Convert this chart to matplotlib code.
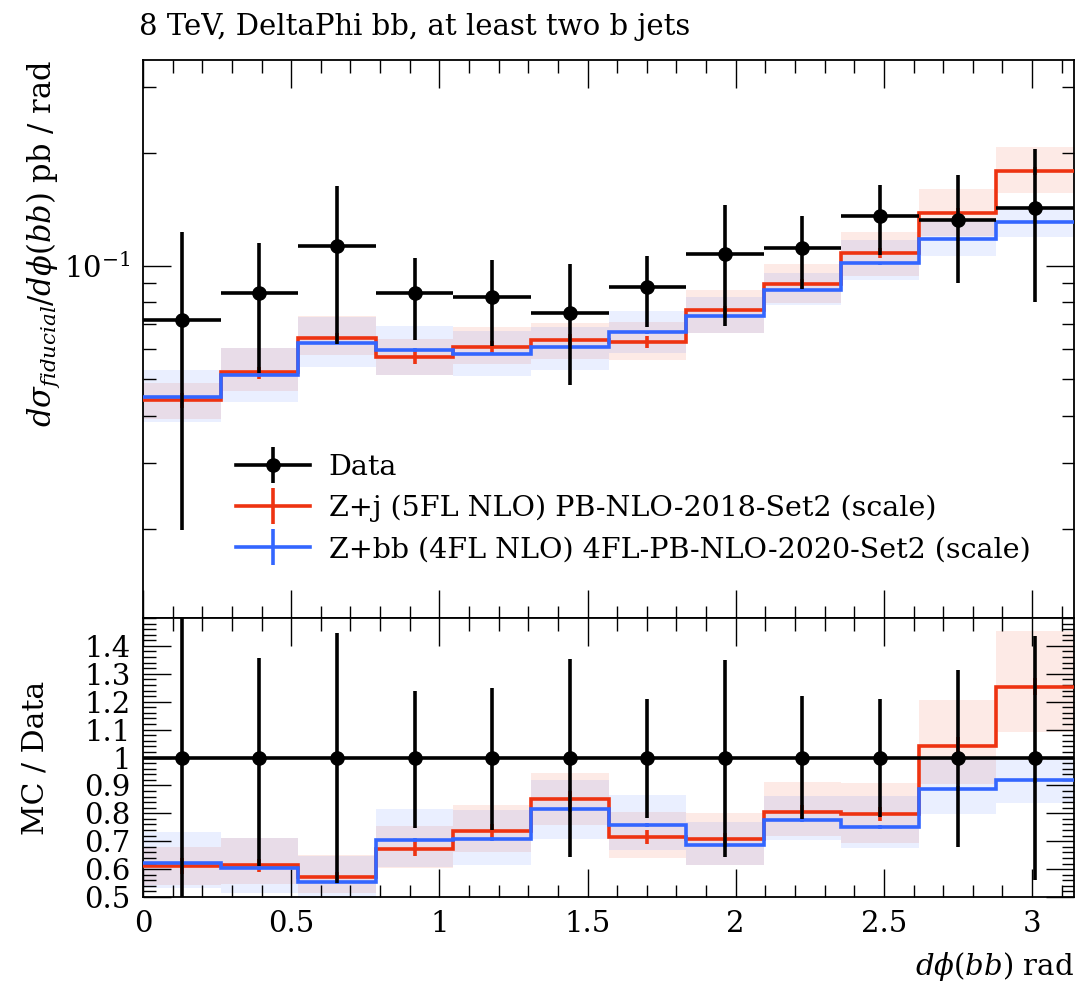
import numpy as np
import matplotlib
matplotlib.use('Agg')
import matplotlib.pyplot as plt
from matplotlib.ticker import MultipleLocator, NullFormatter, LogLocator, FormatStrFormatter
from matplotlib.lines import Line2D

# binning: 12 bins from 0 to pi
edges = np.linspace(0.0, np.pi, 13)

# measured data (pb/rad) and error bar ends
data = [0.0720, 0.0849, 0.1129, 0.0849, 0.0828, 0.0748,
        0.0878, 0.1076, 0.1114, 0.1356, 0.1327, 0.1429]
data_hi = [0.1229, 0.1151, 0.1633, 0.1050, 0.1035, 0.1013,
           0.1063, 0.1453, 0.1360, 0.1640, 0.1744, 0.2050]
data_lo = [0.0199, 0.0518, 0.0622, 0.0635, 0.0612, 0.0482,
           0.0688, 0.0693, 0.0867, 0.1068, 0.0902, 0.0804]

# Z+j (5FL NLO) PB-NLO-2018-Set2
zj = [0.0440, 0.0521, 0.0645, 0.0571, 0.0609, 0.0636,
      0.0629, 0.0762, 0.0898, 0.1081, 0.1381, 0.1792]
zj_up = [0.11, 0.16, 0.14, 0.12, 0.13, 0.11, 0.125, 0.13, 0.13, 0.14, 0.16, 0.16]
zj_dn = [0.11, 0.11, 0.10, 0.10, 0.10, 0.11, 0.105, 0.13, 0.11, 0.13, 0.13, 0.13]
zj_stat = [0.045, 0.037, 0.030, 0.040, 0.036, 0.035, 0.035, 0.030, 0.030, 0.030, 0.030, 0.025]

# Z+bb (4FL NLO) 4FL-PB-NLO-2020-Set2
zbb = [0.0447, 0.0512, 0.0625, 0.0598, 0.0585, 0.0609,
       0.0666, 0.0737, 0.0864, 0.1017, 0.1178, 0.1312]
zbb_up = [0.18, 0.18, 0.17, 0.16, 0.15, 0.13, 0.14, 0.12, 0.11, 0.15, 0.13, 0.08]
zbb_dn = [0.14, 0.15, 0.14, 0.14, 0.13, 0.13, 0.12, 0.10, 0.09, 0.10, 0.10, 0.09]
zbb_stat = [0.01] * 12

RED = '#EE3311'
BLUE = '#3366FF'

plt.rcParams['font.family'] = ['DejaVu Serif']
plt.rcParams['mathtext.fontset'] = 'dejavuserif'

FS = 21

data = np.array(data); data_hi = np.array(data_hi); data_lo = np.array(data_lo)
centers = 0.5 * (edges[1:] + edges[:-1])
halfw = 0.5 * np.diff(edges)

fig = plt.figure(figsize=(10.76, 9.86), dpi=100)
ax = fig.add_axes([143/1076, 1-618/986, 931/1076, 558/986])
rax = fig.add_axes([143/1076, 1-897/986, 931/1076, 279/986], sharex=ax)

mcs = [(zj, zj_up, zj_dn, zj_stat, RED), (zbb, zbb_up, zbb_dn, zbb_stat, BLUE)]

for a, norm in ((ax, np.ones(12)), (rax, data)):
    for val, up, dn, st, col in mcs:
        val = np.array(val) / norm
        hi = val * (1 + np.array(up))
        lo = val * (1 - np.array(dn))
        a.fill_between(edges, np.append(lo, lo[-1]), np.append(hi, hi[-1]),
                       step='post', color=col, alpha=0.1, lw=0, zorder=1)
        a.stairs(val, edges, baseline=None, color=col, lw=2.6, zorder=3)
        a.errorbar(centers, val, yerr=val * np.array(st), fmt='none',
                   ecolor=col, elinewidth=2.6, capsize=0, zorder=3)
    a.errorbar(centers, data / norm, xerr=halfw,
               yerr=[(data - data_lo) / norm, (data_hi - data) / norm],
               fmt='o', color='k', ms=9.5, elinewidth=2.6, capsize=0, zorder=5)

# main panel axes
ax.set_yscale('log')
ax.set_ylim(0.01158, 0.3531)
ax.set_xlim(0, np.pi)
ax.yaxis.set_major_locator(LogLocator(base=10))
ax.yaxis.set_minor_locator(LogLocator(base=10, subs=np.arange(2, 10)))
ax.yaxis.set_minor_formatter(NullFormatter())
ax.tick_params(labelbottom=False)
ax.set_ylabel(r'$d\sigma_{fiducial}/d\phi(bb)$ pb / rad', fontsize=22, loc='top')
ax.yaxis.set_label_coords(-0.087, 1.0)

# ratio panel axes
rax.set_ylim(0.5, 1.5)
rax.yaxis.set_major_locator(MultipleLocator(0.1))
rax.yaxis.set_minor_locator(MultipleLocator(0.02))
rax.set_yticks(np.arange(0.5, 1.45, 0.1))
rax.yaxis.set_major_formatter(FormatStrFormatter('%g'))
rax.set_ylabel('MC / Data', fontsize=21.5)
rax.yaxis.set_label_coords(-0.10, 0.5)
rax.set_xlabel(r'$d\phi(bb)$ rad', fontsize=FS, loc='right')
rax.xaxis.set_label_coords(1.0, -0.19)

for a in (ax, rax):
    a.xaxis.set_major_locator(MultipleLocator(0.5))
    a.xaxis.set_minor_locator(MultipleLocator(0.1))
    a.xaxis.set_major_formatter(FormatStrFormatter('%g'))
    a.tick_params(which='both', direction='in', top=True, right=True,
                  labelsize=FS, width=1.0, pad=9)
    a.tick_params(which='major', length=20)
    a.tick_params(which='minor', length=9)
    for s in a.spines.values():
        s.set_linewidth(1.3)

# legend
h_data = (Line2D([], [], color='k', lw=2.6, marker='o', ms=9.5),
          Line2D([], [], color='k', lw=0, marker='|', ms=26, mew=2.6))
h_zj = (Line2D([], [], color=RED, lw=2.6),
        Line2D([], [], color=RED, lw=0, marker='|', ms=26, mew=2.6))
h_zbb = (Line2D([], [], color=BLUE, lw=2.6),
         Line2D([], [], color=BLUE, lw=0, marker='|', ms=26, mew=2.6))
ax.legend([h_data, h_zj, h_zbb],
          ['Data', 'Z+j (5FL NLO) PB-NLO-2018-Set2 (scale)',
           'Z+bb (4FL NLO) 4FL-PB-NLO-2020-Set2 (scale)'],
          loc='upper left', bbox_to_anchor=(0.088, 0.315), frameon=False,
          fontsize=20.5, handlelength=2.6, handletextpad=0.65, labelspacing=0.5,
          borderaxespad=0)

fig.text(139/1076, 1-35/986, '8 TeV, DeltaPhi bb, at least two b jets',
         fontsize=FS, ha='left', va='baseline')

fig.savefig('out.png', dpi=100)
